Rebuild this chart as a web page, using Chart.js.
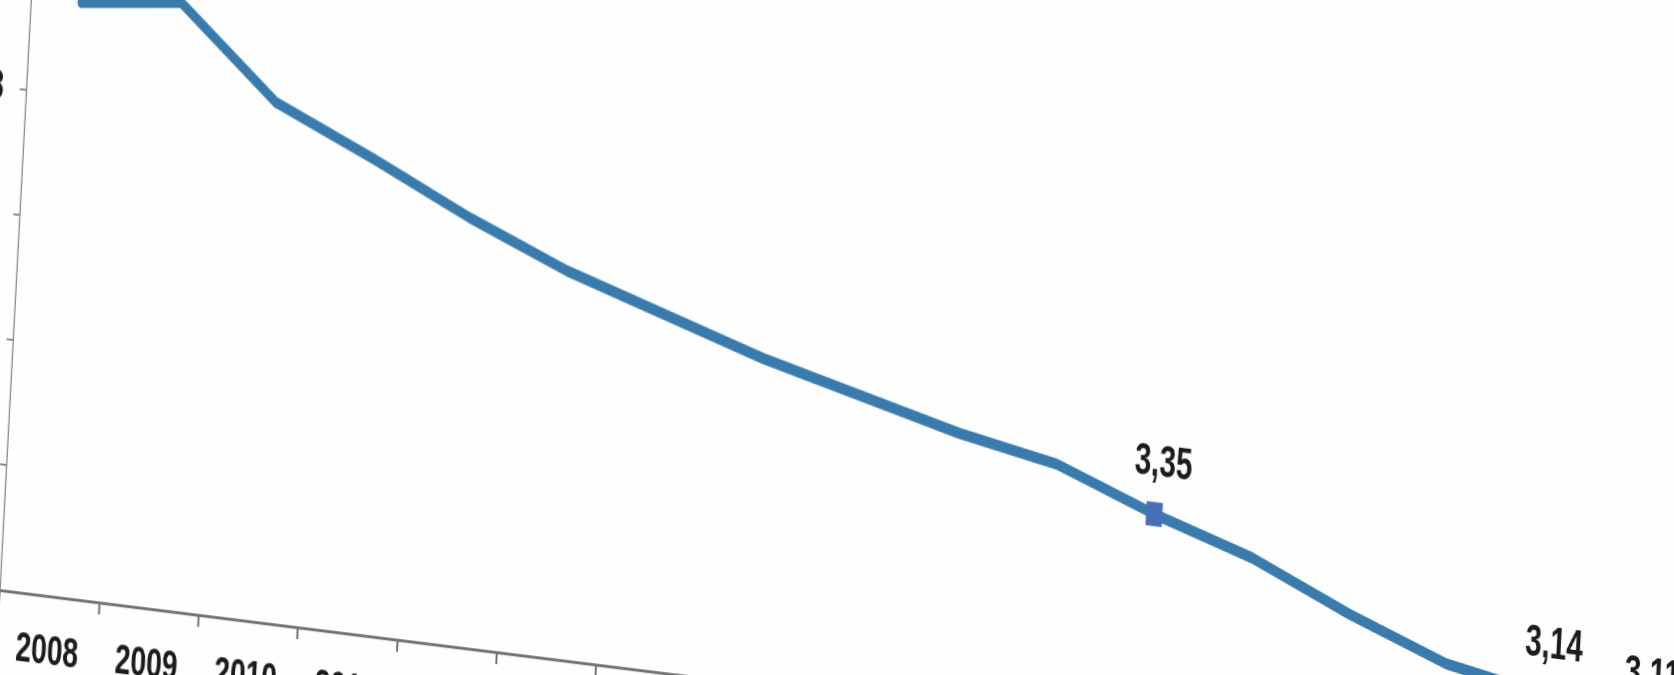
<!DOCTYPE html>
<html>
<head>
<meta charset="utf-8">
<title>3,35</title>
<script src="https://cdn.jsdelivr.net/npm/chart.js@4.4.0/dist/chart.umd.min.js"></script>
<style>
  html, body { margin: 0; padding: 0; width: 1674px; height: 675px; overflow: hidden; background: #fefefe; }
  /* the source is a photo of a slide, so the flat chart is squeezed and tilted with a css matrix */
  #wrap {
    position: absolute; left: -110px; top: -220px;
    width: 2648px; height: 920px;
    transform-origin: 110px 810px;
    transform: matrix(0.67, 0.08375, -0.053, 1, 0, 0);
  }
  canvas { display: block; }
</style>
</head>
<body>
<div id="wrap"><canvas id="chart" width="2648" height="920"></canvas></div>
<script>
  // Data
  const years = ['2008','2009','2010','2011','2012','2013','2014','2015','2016',
                 '2017','2018','2019','2020','2021','2022','2023','2024'];
  const values = [3.95, 3.97, 3.83, 3.76, 3.685, 3.62, 3.57, 3.52, 3.48,
                  3.44, 3.41, 3.35, 3.30, 3.23, 3.17, 3.14, 3.11];
  const labeledYears = ['2019', '2023', '2024'];
  const yTicks = [3.0, 3.2, 3.4, 3.6, 3.8, 4.0, 4.2];

  const FONT = "'Liberation Sans', Arial, sans-serif";
  const LINE = '#3a7bad';
  const MARK = '#4670b5';
  const AXIS = '#747474';

  const comma = (v, d) => v.toFixed(d).replace('.', ',');

  // simple data labels, drawn at the points the scales give
  const pointLabels = {
    id: 'pointLabels',
    afterDatasetsDraw(chart){
      const ctx = chart.ctx;
      const meta = chart.getDatasetMeta(0);
      ctx.save();
      ctx.font = 'bold 44px ' + FONT;
      ctx.fillStyle = '#1b1b1b';
      ctx.textAlign = 'center';
      ctx.textBaseline = 'alphabetic';
      meta.data.forEach((pt, i) => {
        if (!labeledYears.includes(years[i])) return;
        ctx.fillText(comma(values[i], 2), pt.x + 10, pt.y - 38);
      });
      ctx.restore();
    }
  };

  const ctx = document.getElementById('chart').getContext('2d');
  new Chart(ctx, {
    type: 'line',
    data: {
      labels: years,
      datasets: [{
        data: values,
        borderColor: LINE,
        borderWidth: 11,
        borderJoinStyle: 'round',
        borderCapStyle: 'round',
        tension: 0,
        pointStyle: 'rect',
        pointRadius: years.map(y => labeledYears.includes(y) ? 17 : 0),
        pointBackgroundColor: MARK,
        pointBorderColor: MARK,
        pointBorderWidth: 0
      }]
    },
    options: {
      responsive: false,
      animation: false,
      layout: { padding: { top: 60, left: 0, right: 0, bottom: 0 } },
      plugins: { legend: { display: false }, tooltip: { enabled: false } },
      scales: {
        x: {
          type: 'category',
          offset: true,
          afterFit: s => { s.height = 110; },
          grid: { offset: true, drawOnChartArea: false, tickLength: 12, color: AXIS, lineWidth: 3 },
          border: { display: true, color: AXIS, width: 3 },
          ticks: { color: '#1b1b1b', padding: 19, maxRotation: 0, autoSkip: false,
                   font: { family: FONT, size: 42, weight: 'bold' } }
        },
        y: {
          min: 3.0,
          max: 4.2,
          afterFit: s => { s.width = 110; },
          afterBuildTicks: s => { s.ticks = yTicks.map(v => ({ value: v })); },
          grid: { drawOnChartArea: false, tickLength: 10, color: '#8a8a8a', lineWidth: 2 },
          border: { display: true, color: '#8a8a8a', width: 2 },
          ticks: { color: '#1b1b1b', padding: 24, font: { family: FONT, size: 42, weight: 'bold' },
                   callback: v => comma(v, 1) }
        }
      }
    },
    plugins: [pointLabels]
  });
</script>
</body>
</html>
